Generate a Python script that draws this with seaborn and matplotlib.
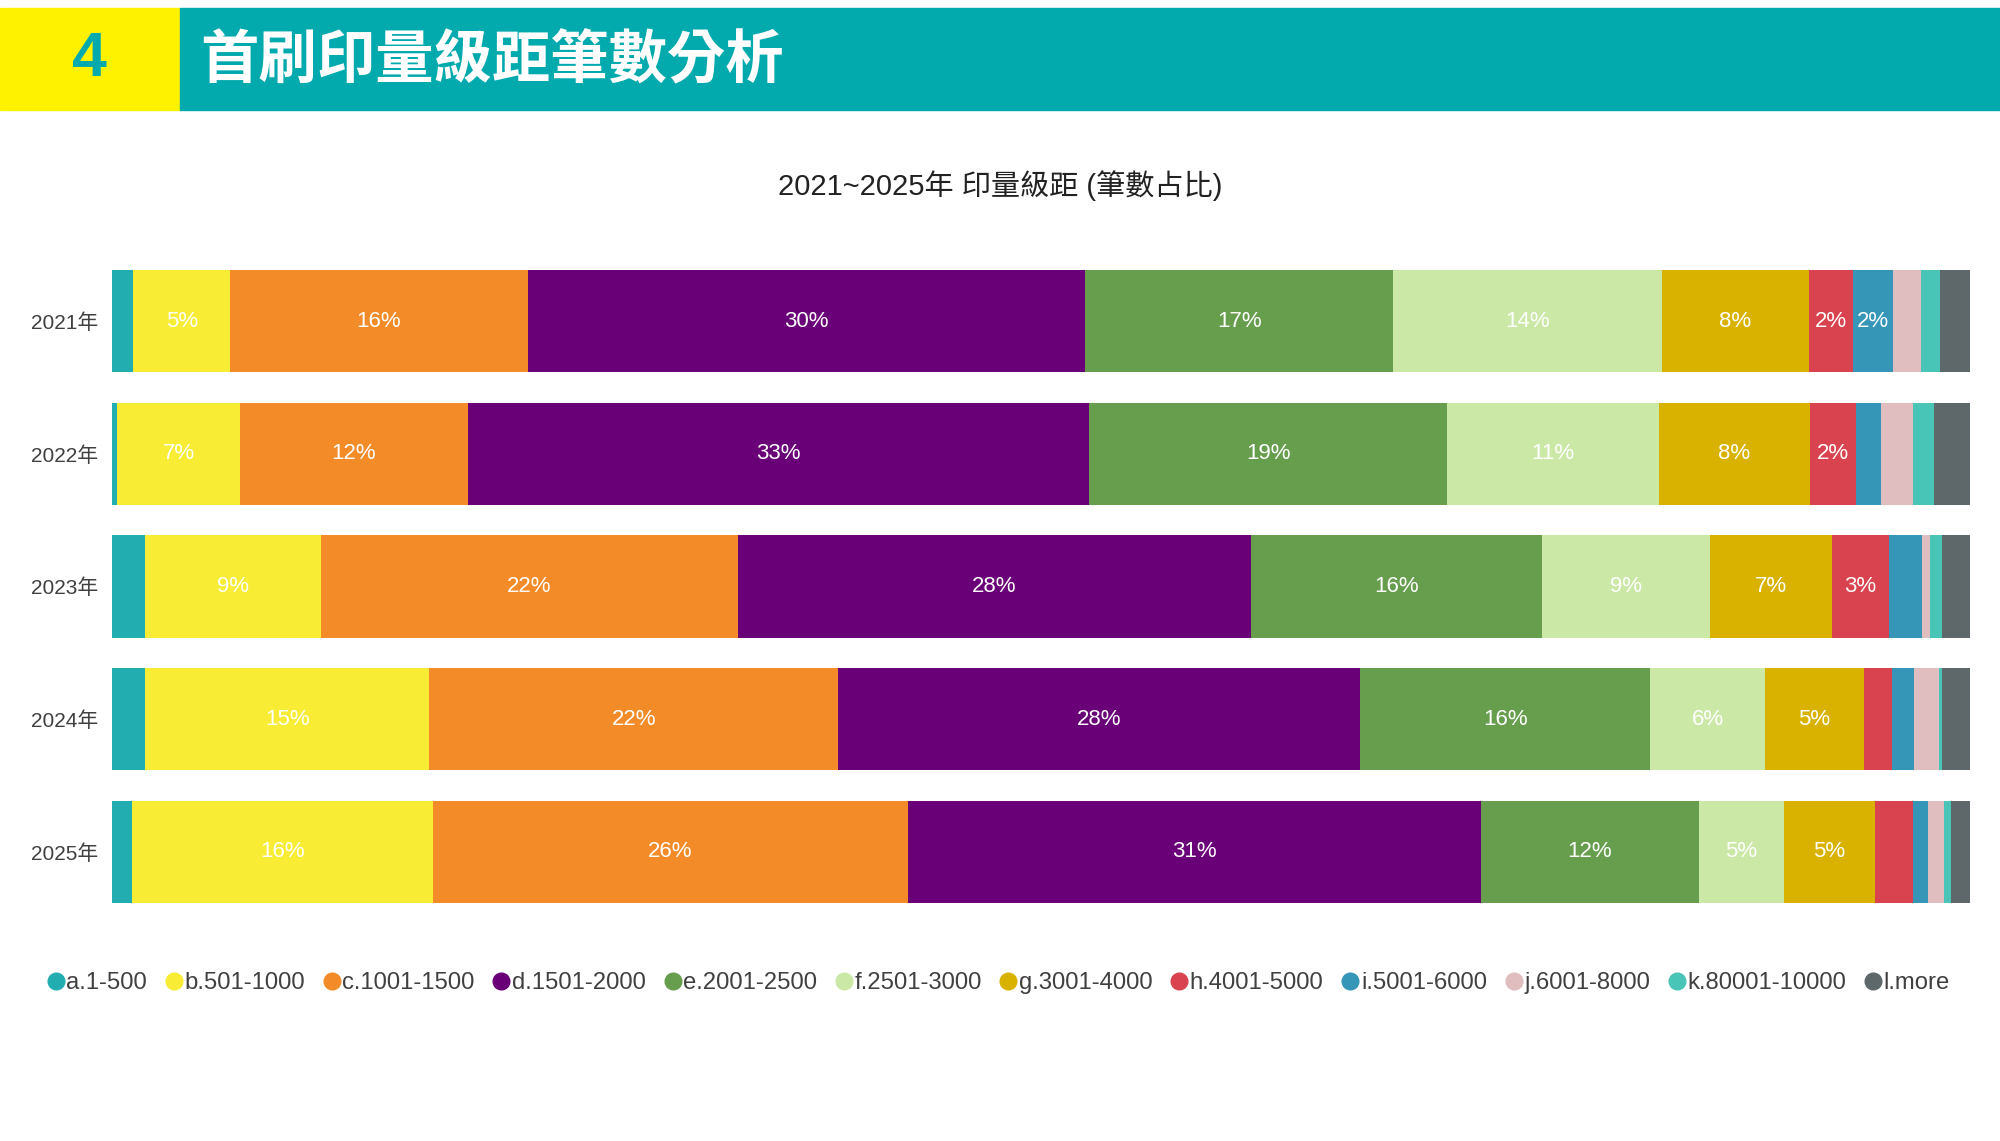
import numpy as np
import pandas as pd
import matplotlib.pyplot as plt
import seaborn as sns
from matplotlib.lines import Line2D
from matplotlib.patches import Rectangle

years = ["2021年", "2022年", "2023年", "2024年", "2025年"]
bands = ["a.1-500", "b.501-1000", "c.1001-1500", "d.1501-2000", "e.2001-2500",
         "f.2501-3000", "g.3001-4000", "h.4001-5000", "i.5001-6000",
         "j.6001-8000", "k.80001-10000", "l.more"]
colors = ["#22AEB1", "#F8EC34", "#F28B28", "#6A0078", "#679E4E", "#CCE8A7",
          "#D9B200", "#D8434F", "#3596B8", "#E0BDBF", "#49C5B8", "#5E686B"]

# share of titles per print-run band (%)
share_2021 = [1.13, 5.24, 16.0, 30.0, 16.6, 14.45, 7.9, 2.38, 2.17, 1.49, 1.04, 1.6]
share_2022 = [0.29, 6.58, 12.3, 33.4, 19.3, 11.4, 8.1, 2.48, 1.35, 1.74, 1.13, 1.93]
share_2023 = [1.8, 9.47, 22.4, 27.62, 15.7, 9.0, 6.6, 3.05, 1.78, 0.43, 0.66, 1.49]
share_2024 = [1.78, 15.3, 22.0, 28.1, 15.6, 6.2, 5.3, 1.52, 1.2, 1.33, 0.16, 1.51]
share_2025 = [1.06, 16.2, 25.6, 30.8, 11.73, 4.6, 4.9, 2.05, 0.82, 0.86, 0.38, 1.0]

rows = [share_2021, share_2022, share_2023, share_2024, share_2025]
df = pd.DataFrame(rows, index=years, columns=bands)
cum = df.cumsum(axis=1)

long = cum.reset_index().melt(id_vars="index", var_name="band", value_name="cum")
long = long.rename(columns={"index": "year"})

sns.set_theme(style="white")
plt.rcParams['font.family'] = ['Liberation Sans', 'Noto Sans CJK TC', 'DejaVu Sans']

fig = plt.figure(figsize=(20, 11.41), dpi=100)

# header banner
fig.patches.append(Rectangle((0, 0.9036), 0.09, 0.0897, transform=fig.transFigure,
                             color="#FFF200", zorder=0))
fig.patches.append(Rectangle((0.09, 0.9036), 0.91, 0.0897, transform=fig.transFigure,
                             color="#03AAAD", zorder=0))
fig.text(0.0445, 0.948, "4", color="#03AAAD", fontsize=45, fontweight="bold",
         ha="center", va="center", family=['Liberation Sans Narrow', 'Liberation Sans'])
fig.text(0.1, 0.946, "首刷印量級距筆數分析", color="white", fontsize=42, fontweight="bold",
         ha="left", va="center", family=['Noto Sans CJK TC'])

fig.text(0.5, 0.837, "2021~2025年 印量級距 (筆數占比)", color="#222222", fontsize=21,
         ha="center", va="center")

ax = fig.add_axes([0.056, 0.2086, 0.929, 0.5548])

# stacked bars: draw cumulative totals from the last band back to the first
for band, col in reversed(list(zip(bands, colors))):
    sub = long[long["band"] == band]
    sns.barplot(data=sub, x="cum", y="year", order=years, color=col, saturation=1,
                width=0.77, linewidth=0, errorbar=None, orient="h", ax=ax)

for i, year in enumerate(years):
    for band in bands:
        v = df.loc[year, band]
        if v >= 2.1:
            xc = cum.loc[year, band] - v / 2
            ax.text(xc, i, f"{round(v)}%", color="white", fontsize=16,
                    ha="center", va="center")

ax.set_xlim(0, 100)
ax.set_ylim(4.385, -0.385)
ax.set_xlabel("")
ax.set_ylabel("")
ax.set_xticks([])
ax.tick_params(axis="y", length=0, pad=10, labelsize=15, labelcolor="#404040")
sns.despine(ax=ax, left=True, bottom=True)

handles = [Line2D([0], [0], marker="o", linestyle="", markersize=12,
                  markerfacecolor=c, markeredgecolor=c) for c in colors]
fig.legend(handles, bands, loc="center", bbox_to_anchor=(0.499, 0.1385), ncol=12,
           frameon=False, fontsize=17.2, handletextpad=0.04, columnspacing=0.72,
           handlelength=0.8, labelcolor="#404040")

fig.savefig("out.png", dpi=100)
